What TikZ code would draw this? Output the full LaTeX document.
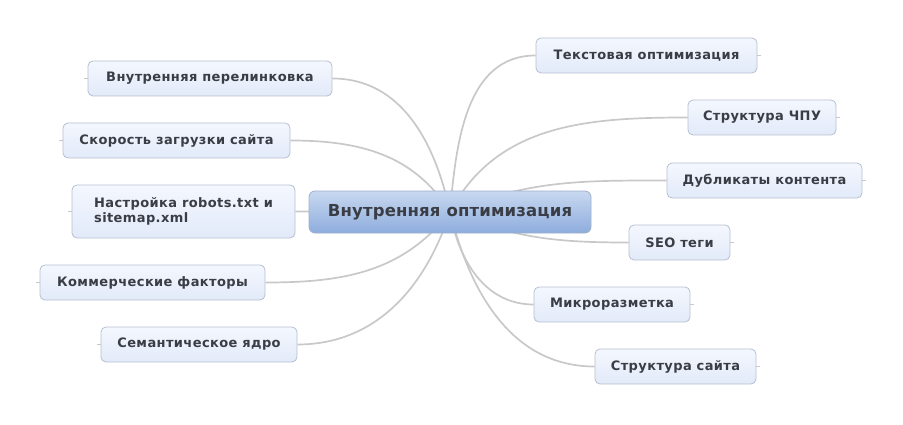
\documentclass[tikz,border=0pt]{standalone}
\usepackage{fontspec}
\setmainfont{DejaVu Sans}
\usepackage{xcolor}
\usetikzlibrary{backgrounds}
\definecolor{topicText}{RGB}{58,61,69}
\definecolor{topicLine}{RGB}{200,200,200}
\definecolor{topicBorder}{RGB}{182,192,208}
\definecolor{mainBorder}{RGB}{160,176,204}

\begin{document}
\begin{tikzpicture}[x=1pt,y=1pt,
		topic/.style={draw=topicBorder, line width=0.8pt, rounded corners=5pt,
			top color={rgb,255:red,244;green,247;blue,254}, bottom color={rgb,255:red,226;green,234;blue,249},
			text=topicText, font=\bfseries\fontsize{13}{15.5}\selectfont\addfontfeature{LetterSpace=3},
			minimum height=35pt, inner xsep=14pt},
		branch/.style={topicLine, line width=1.7pt}]
			\useasboundingbox (0,0) rectangle (903,424);

			% Central topic
			\node[draw=mainBorder, line width=0.8pt, rounded corners=6pt,
				top color={rgb,255:red,200;green,216;blue,240}, bottom color={rgb,255:red,142;green,173;blue,221},
				text=topicText, font=\bfseries\fontsize{16.5}{19}\selectfont\addfontfeature{LetterSpace=1},
				minimum width=282pt, minimum height=42pt] (main) at (450,212) {Внутренняя оптимизация};

			% Topics on the right
			\node[topic, minimum width=221pt] (text) at (646.5,368.5) {Текстовая оптимизация};
			\node[topic, minimum width=148pt] (chpu) at (762,306.5) {Структура ЧПУ};
			\node[topic, minimum width=195pt] (dupl) at (764.5,243.5) {Дубликаты контента};
			\node[topic, minimum width=101pt] (seo) at (679.5,181.5) {SEO теги};
			\node[topic, minimum width=156pt] (micro) at (612,119.5) {Микроразметка};
			\node[topic, minimum width=161pt] (site) at (675.5,57.5) {Структура сайта};

			% Topics on the left
			\node[topic, minimum width=244pt] (links) at (210,345.5) {Внутренняя перелинковка};
			\node[topic, minimum width=227pt] (speed) at (176.5,283.5) {Скорость загрузки сайта};
			\node[topic, minimum width=223pt, minimum height=53pt, align=left] (robots) at (183.5,212.5) {Настройка robots.txt и\\sitemap.xml};
			\node[topic, minimum width=225pt] (trade) at (152.5,141.5) {Коммерческие факторы};
			\node[topic, minimum width=196pt] (core) at (199,79.5) {Семантическое ядро};

			\begin{scope}[on background layer]
			% Branches to the right
			\draw[branch] (main.center) to[out=85, in=180] (text.west);
			\draw[branch] (main.center) to[out=62, in=180] (chpu.west);
			\draw[branch] (main.center) to[out=22, in=180] (dupl.west);
			\draw[branch] (main.center) to[out=-22, in=180] (seo.west);
			\draw[branch] (main.center) to[out=-80, in=180] (micro.west);
			\draw[branch] (main.center) to[out=-76, in=180] (site.west);

			% Branches to the left
			\draw[branch] (main.center) to[out=102, in=0] (links.east);
			\draw[branch] (main.center) to[out=122, in=0] (speed.east);
			\draw[branch] (main.center) -- (robots.east);
			\draw[branch] (main.center) to[out=-128, in=0] (trade.east);
			\draw[branch] (main.center) to[out=-108, in=0] (core.east);

			% Short ends on the far side
			\foreach \t in {text,chpu,dupl,seo,micro,site}
			\draw[topicLine, line width=0.8pt] (\t.east) -- ++(4,0);
			\foreach \t in {links,speed,robots,trade,core}
			\draw[topicLine, line width=0.8pt] (\t.west) -- ++(-4,0);
			\end{scope}
		\end{tikzpicture}
\end{document}
